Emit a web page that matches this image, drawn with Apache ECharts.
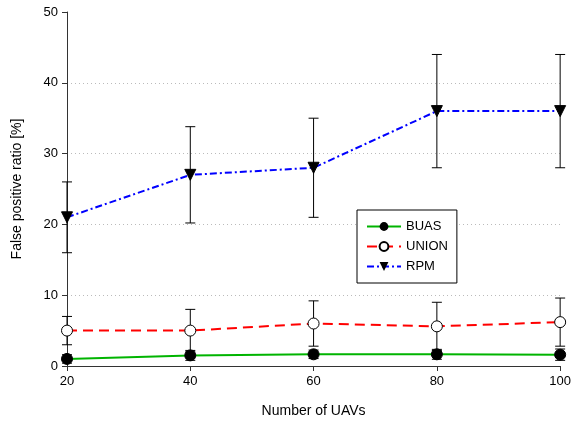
<!DOCTYPE html>
<html>
<head>
<meta charset="utf-8">
<script src="https://cdn.jsdelivr.net/npm/echarts@6/dist/echarts.min.js"></script>
<style>html,body{margin:0;padding:0;background:#fff;}#c{width:574px;height:427px;}</style>
</head>
<body>
<div id="c"></div>
<script>
var xValues = [20, 40, 60, 80, 100];
var buas = [1.0, 1.5, 1.65, 1.65, 1.6];
var buasErr = [0.6, 0.7, 0.6, 0.7, 0.8];
var union = [5.0, 5.0, 6.0, 5.6, 6.2];
var unionErr = [2.0, 3.0, 3.2, 3.4, 3.4];
var rpm = [21, 27, 28, 36, 36];
var rpmErr = [5, 6.8, 7, 8, 8];
var yTicks = [0, 10, 20, 30, 40, 50];
var xTicks = [20, 40, 60, 80, 100];

function pts(vals) { return xValues.map(function (x, i) { return [x, vals[i]]; }); }
function errData(vals, errs) { return xValues.map(function (x, i) { return [x, vals[i] - errs[i], vals[i] + errs[i]]; }); }

function errorSeries(name, vals, errs) {
  return {
    type: 'custom', name: name + '_err', silent: true, z: 1,
    data: errData(vals, errs),
    encode: { x: 0, y: [1, 2] },
    renderItem: function (params, api) {
      var x = api.value(0);
      var lo = api.coord([x, api.value(1)]);
      var hi = api.coord([x, api.value(2)]);
      var w = 5;
      var st = { stroke: '#000', lineWidth: 1 };
      return { type: 'group', children: [
        { type: 'line', shape: { x1: lo[0], y1: lo[1], x2: hi[0], y2: hi[1] }, style: st },
        { type: 'line', shape: { x1: lo[0] - w, y1: lo[1], x2: lo[0] + w, y2: lo[1] }, style: st },
        { type: 'line', shape: { x1: hi[0] - w, y1: hi[1], x2: hi[0] + w, y2: hi[1] }, style: st }
      ]};
    }
  };
}

var chart = echarts.init(document.getElementById('c'), null, { renderer: 'canvas' });
var font = 'Liberation Sans, Arial, sans-serif';
chart.setOption({
  animation: false,
  backgroundColor: '#fff',
  textStyle: { fontFamily: font },
  grid: { left: 67, right: 12, top: 12, bottom: 61, containLabel: false },
  legend: {
    left: 357, top: 210, orient: 'vertical',
    itemWidth: 34, itemHeight: 11, itemGap: 7,
    padding: [10, 9, 10, 9],
    borderColor: '#000', borderWidth: 1, backgroundColor: '#fff',
    textStyle: { fontFamily: font, fontSize: 13, color: '#000' },
    data: ['BUAS', 'UNION', 'RPM']
  },
  xAxis: {
    type: 'value', min: 20, max: 100, interval: 20,
    name: 'Number of UAVs', nameLocation: 'middle', nameGap: 38,
    nameTextStyle: { fontFamily: font, fontSize: 14, color: '#000' },
    axisLine: { show: true, lineStyle: { color: '#333', width: 1 } },
    axisTick: { show: true, inside: false, length: 5, lineStyle: { color: '#333' } },
    axisLabel: { fontFamily: font, fontSize: 13, color: '#000', margin: 9 },
    splitLine: { show: false }
  },
  yAxis: {
    type: 'value', min: 0, max: 50, interval: 10,
    name: 'False positive ratio [%]', nameLocation: 'middle', nameGap: 43, nameRotate: 90,
    nameTextStyle: { fontFamily: font, fontSize: 14, color: '#000' },
    axisLine: { show: true, lineStyle: { color: '#333', width: 1 } },
    axisTick: { show: true, inside: false, length: 5, lineStyle: { color: '#333' } },
    axisLabel: { fontFamily: font, fontSize: 13, color: '#000', margin: 9 },
    splitLine: { show: true, showMaxLine: false, showMinLine: false, lineStyle: { color: '#bbb', type: [1, 3], width: 1 } }
  },
  series: [
    errorSeries('BUAS', buas, buasErr),
    errorSeries('UNION', union, unionErr),
    errorSeries('RPM', rpm, rpmErr),
    {
      name: 'BUAS', type: 'line', z: 3, data: pts(buas),
      symbol: 'circle', symbolSize: 11,
      itemStyle: { color: '#000', borderColor: '#000' },
      lineStyle: { color: '#00b400', width: 2, type: 'solid' }
    },
    {
      name: 'UNION', type: 'line', z: 3, data: pts(union),
      symbol: 'circle', symbolSize: 11,
      itemStyle: { color: '#fff', borderColor: '#000', borderWidth: 1 },
      lineStyle: { color: '#ff0000', width: 2, type: [10, 6] }
    },
    {
      name: 'RPM', type: 'line', z: 3, data: pts(rpm),
      symbol: 'triangle', symbolRotate: 180, symbolSize: 11,
      itemStyle: { color: '#000', borderColor: '#000' },
      lineStyle: { color: '#0000ff', width: 2, type: [7, 3, 2, 3] }
    }
  ]
});
</script>
</body>
</html>
